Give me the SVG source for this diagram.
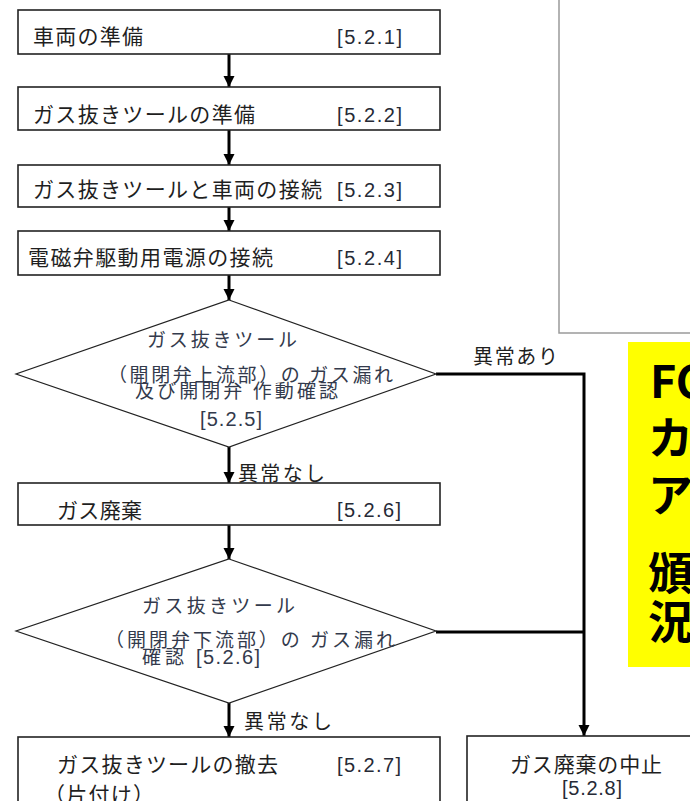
<svg xmlns="http://www.w3.org/2000/svg" width="690" height="801" viewBox="0 0 690 801">
<style>
  .box { fill: #ffffff; stroke: #222222; stroke-width: 1.6; }
  .dia { fill: #ffffff; stroke: #222222; stroke-width: 1.2; }
  .t { font-family: "Noto Sans CJK JP", "Noto Sans", sans-serif; font-size: 21px; fill: #1f1f1f; }
  .td { font-family: "Noto Sans CJK JP", "Noto Sans", sans-serif; font-size: 19px; fill: #333a4c; }
  .n { font-family: "Liberation Sans", Arial, sans-serif; font-size: 20px; fill: #262a36; }
  .lbl { font-family: "Noto Sans CJK JP", "Noto Sans", sans-serif; font-size: 20px; fill: #1f1f1f; }
  .big { font-family: "Noto Sans CJK JP", "Noto Sans", sans-serif; font-size: 45px; font-weight: bold; fill: #000000; }
  .conn { fill: none; stroke: #000000; stroke-width: 3; }
</style>
<defs>
  <marker id="ah" markerUnits="userSpaceOnUse" markerWidth="12" markerHeight="12" refX="11" refY="6" orient="auto">
    <path d="M0,0.5 L11,6 L0,11.5 z" fill="#000000"/>
  </marker>
</defs>

<g id="frame">
  <rect x="559" y="-10" width="200" height="343" fill="#ffffff" stroke="#9a9a9a" stroke-width="1.5"/>
</g>

<g id="note">
  <rect x="628" y="342" width="100" height="325" fill="#ffff00"/>
  <text class="big" x="650" y="398">FC</text>
  <text class="big" x="648" y="455">カ</text>
  <text class="big" x="648" y="512">ア</text>
  <text class="big" x="648" y="590">頒</text>
  <text class="big" x="648" y="639">況</text>
</g>

<g id="connectors">
  <line class="conn" x1="229" y1="54" x2="229" y2="87" marker-end="url(#ah)"/>
  <line class="conn" x1="229" y1="130" x2="229" y2="165" marker-end="url(#ah)"/>
  <line class="conn" x1="229" y1="207" x2="229" y2="231" marker-end="url(#ah)"/>
  <line class="conn" x1="229" y1="275" x2="229" y2="300" marker-end="url(#ah)"/>
  <line class="conn" x1="229" y1="447" x2="229" y2="483" marker-end="url(#ah)"/>
  <line class="conn" x1="229" y1="525" x2="229" y2="559" marker-end="url(#ah)"/>
  <line class="conn" x1="229" y1="703" x2="229" y2="737" marker-end="url(#ah)"/>
  <polyline class="conn" points="436,374 584,374 584,736" marker-end="url(#ah)"/>
  <line class="conn" x1="436" y1="632" x2="585" y2="632"/>
  <text class="lbl" x="238" y="481" textLength="87" lengthAdjust="spacing">異常なし</text>
  <text class="lbl" x="473" y="364" textLength="85" lengthAdjust="spacing">異常あり</text>
  <text class="lbl" x="244" y="729" textLength="88" lengthAdjust="spacing">異常なし</text>
</g>

<g id="n521">
  <rect class="box" x="18" y="10" width="422" height="44"/>
  <text class="t" x="33" y="44" textLength="110" lengthAdjust="spacing">車両の準備</text>
  <text class="n" x="337" y="44" textLength="65" lengthAdjust="spacing">[5.2.1]</text>
</g>

<g id="n522">
  <rect class="box" x="18" y="87" width="422" height="43"/>
  <text class="t" x="33" y="122" textLength="222" lengthAdjust="spacing">ガス抜きツールの準備</text>
  <text class="n" x="337" y="122" textLength="65" lengthAdjust="spacing">[5.2.2]</text>
</g>

<g id="n523">
  <rect class="box" x="18" y="165" width="422" height="42"/>
  <text class="t" x="33" y="197" textLength="289" lengthAdjust="spacing">ガス抜きツールと車両の接続</text>
  <text class="n" x="337" y="197" textLength="65" lengthAdjust="spacing">[5.2.3]</text>
</g>

<g id="n524">
  <rect class="box" x="18" y="231" width="422" height="44"/>
  <text class="t" x="28" y="265" textLength="245" lengthAdjust="spacing">電磁弁駆動用電源の接続</text>
  <text class="n" x="337" y="265" textLength="65" lengthAdjust="spacing">[5.2.4]</text>
</g>

<g id="n525">
  <polygon class="dia" points="229,300 436,374 229,447 16,374"/>
  <text class="td" x="147" y="347" textLength="150" lengthAdjust="spacing">ガス抜きツール</text>
  <text class="td" x="108" y="382" textLength="285" lengthAdjust="spacing">（開閉弁上流部）の ガス漏れ</text>
  <text class="td" x="135" y="398" textLength="203" lengthAdjust="spacing">及び開閉弁 作動確認</text>
  <text class="n" x="200" y="426" textLength="62" lengthAdjust="spacing" style="fill:#333a4c">[5.2.5]</text>
</g>

<g id="n526">
  <rect class="box" x="18" y="483" width="422" height="42"/>
  <text class="t" x="57" y="518" textLength="85" lengthAdjust="spacing">ガス廃棄</text>
  <text class="n" x="337" y="517" textLength="64" lengthAdjust="spacing">[5.2.6]</text>
</g>

<g id="n526b">
  <polygon class="dia" points="229,559 436,631 229,703 16,631"/>
  <text class="td" x="142" y="613" textLength="153" lengthAdjust="spacing">ガス抜きツール</text>
  <text class="td" x="105" y="647" textLength="290" lengthAdjust="spacing">（開閉弁下流部）の ガス漏れ</text>
  <text class="td" x="142" y="664" textLength="42" lengthAdjust="spacing">確認</text>
  <text class="n" x="196" y="664" textLength="64" lengthAdjust="spacing" style="fill:#333a4c">[5.2.6]</text>
</g>

<g id="n527">
  <rect class="box" x="18" y="737" width="422" height="90"/>
  <text class="t" x="57" y="772" textLength="221" lengthAdjust="spacing">ガス抜きツールの撤去</text>
  <text class="n" x="337" y="772" textLength="64" lengthAdjust="spacing">[5.2.7]</text>
  <text class="t" x="44" y="802" textLength="110" lengthAdjust="spacing">（片付け）</text>
</g>

<g id="n528">
  <rect class="box" x="467" y="736" width="260" height="90"/>
  <text class="t" x="510" y="772" textLength="152" lengthAdjust="spacing">ガス廃棄の中止</text>
  <text class="n" x="562" y="795" textLength="60" lengthAdjust="spacing">[5.2.8]</text>
</g>
</svg>
